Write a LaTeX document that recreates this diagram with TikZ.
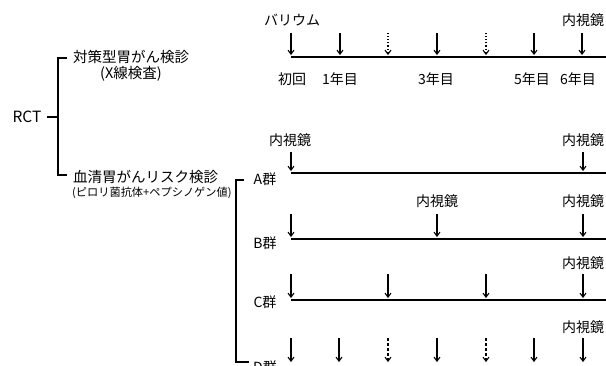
\documentclass[tikz,border=0pt]{standalone}
\usepackage{fontspec}
\newfontfamily\jp{Noto Sans CJK JP}
\usetikzlibrary{arrows.meta}
\tikzset{
  lbl/.style={font=\jp\fontsize{14}{14}\selectfont, inner sep=0pt},
  big/.style={font=\jp\fontsize{14.5}{14.5}\selectfont, inner sep=0pt},
  small/.style={font=\jp\fontsize{11.2}{11.2}\selectfont, inner sep=0pt},
  tl/.style={line width=1.1pt},
  ar/.style={line width=1.1pt, -{Straight Barb[length=4pt,width=6pt,line width=1.1pt]}},
  dar/.style={ar, dotted},
  dsh/.style={ar, dash pattern=on 3pt off 2pt},
}
\begin{document}
\begin{tikzpicture}[x=1pt,y=-1pt]
\useasboundingbox (0,0) rectangle (606,365);
\clip (0,0) rectangle (606,365);
% left bracket
\node[font=\jp\fontsize{15.5}{15.5}\selectfont, inner sep=0pt] (rct) at (27,117) {RCT};
\coordinate (b1t) at (58,58);
\coordinate (b1b) at (58,175);
\coordinate (b1m) at (58,117);
\coordinate (rcte) at (47,117);
\draw[tl] (rcte) -- (b1m);
\draw[tl] (67,58) coordinate (b1tt) -- (b1t) -- (b1b) -- (67,175) coordinate (b1bb);
\node[big, anchor=west] (taisaku) at (73,57) {対策型胃がん検診};
\node[big, anchor=west] (xsen) at (100,74) {(X線検査)};
\node[big, anchor=west] (kessei) at (73,177) {血清胃がんリスク検診};
\node[small, anchor=west] (pylori) at (72,193) {(ピロリ菌抗体+ペプシノゲン値)};
% second bracket
\draw[tl] (244,180) coordinate (b2tt) -- (236,180) coordinate (b2t) -- (236,362) coordinate (b2b) -- (249,362) coordinate (b2bb);
% top timeline
\node[lbl] (bar) at (292,20) {バリウム};
\node[lbl] (nt) at (583,20) {内視鏡};
\coordinate (l0s) at (291,57); \coordinate (l0e) at (606,57);
\draw[tl] (l0s) -- (l0e);
\foreach \x/\s [count=\i] in {291/ar,340/ar,388/dar,437/ar,486/dar,534/ar,582/ar}{
  \coordinate (ts\i) at (\x,33); \coordinate (te\i) at (\x,55);
  \draw[\s] (ts\i) -- (te\i);
}
\node[lbl] (y0) at (292,79) {初回};
\node[lbl] (y1) at (340,79) {1年目};
\node[lbl] (y3) at (436,79) {3年目};
\node[lbl] (y5) at (532,79) {5年目};
\node[lbl] (y6) at (578,79) {6年目};
% A group
\node[lbl] (a1) at (290,140) {内視鏡};
\node[lbl] (a2) at (583,140) {内視鏡};
\coordinate (as1) at (291,152); \coordinate (ae1) at (291,171);
\coordinate (as2) at (583,152); \coordinate (ae2) at (583,171);
\draw[ar] (as1) -- (ae1);
\draw[ar] (as2) -- (ae2);
\coordinate (las) at (291,173); \coordinate (lae) at (606,173);
\draw[tl] (las) -- (lae);
\node[lbl] (ga) at (265,179) {A群};
% B group
\node[lbl] (b1) at (437,201) {内視鏡};
\node[lbl] (b2) at (583,201) {内視鏡};
\foreach \x [count=\i] in {291,437,583}{
  \coordinate (bs\i) at (\x,214); \coordinate (be\i) at (\x,237);
  \draw[ar] (bs\i) -- (be\i);
}
\coordinate (lbs) at (291,239); \coordinate (lbe) at (606,239);
\draw[tl] (lbs) -- (lbe);
\node[lbl] (gb) at (265,243) {B群};
% C group
\node[lbl] (c2) at (583,263) {内視鏡};
\foreach \x [count=\i] in {291,388,486,583}{
  \coordinate (cs\i) at (\x,274); \coordinate (ce\i) at (\x,298);
  \draw[ar] (cs\i) -- (ce\i);
}
\coordinate (lcs) at (291,300); \coordinate (lce) at (606,300);
\draw[tl] (lcs) -- (lce);
\node[lbl] (gc) at (265,302) {C群};
% D group
\node[lbl] (d2) at (583,327) {内視鏡};
\foreach \x/\s [count=\i] in {291/ar,339/ar,388/dsh,437/ar,486/dsh,534/ar,583/ar}{
  \coordinate (ds\i) at (\x,338); \coordinate (de\i) at (\x,362);
  \draw[\s] (ds\i) -- (de\i);
}
\node[lbl] (gd) at (265,367) {D群};
\end{tikzpicture}
\end{document}
